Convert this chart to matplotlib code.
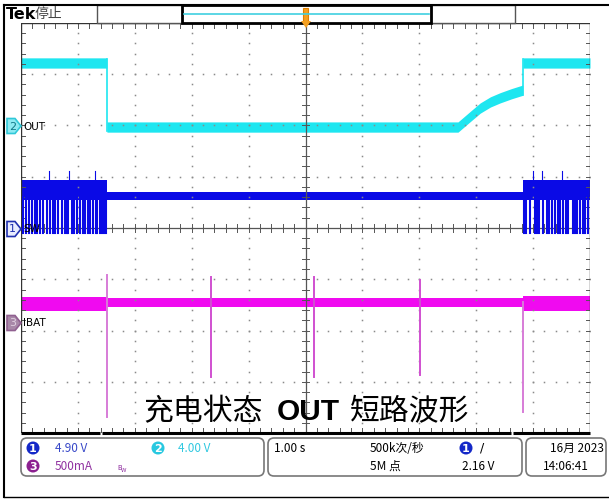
import matplotlib
matplotlib.use('Agg')
import matplotlib.pyplot as plt
import numpy as np
from matplotlib.patches import FancyBboxPatch, Polygon, Circle, Rectangle

plt.rcParams['font.family'] = ['DejaVu Sans', 'Noto Sans CJK SC']

# 屏幕刻度：横向 10 格，纵向 8 格（单位：格）
# CH2 OUT 轨迹（中心线）
out_x = [0, 1.51, 1.51, 7.68, 7.90, 8.07, 8.25, 8.42, 8.62, 8.82, 8.82, 10]
out_y = [7.22, 7.22, 5.97, 5.97, 6.18, 6.34, 6.46, 6.54, 6.62, 6.69, 7.22, 7.22]
out_half = 0.10

# CH1 SW 轨迹（上下沿）
sw_x = [0, 1.51, 1.51, 8.82, 8.82, 10]
sw_top = [4.94, 4.94, 4.70, 4.70, 4.94, 4.94]
sw_bot = [4.55, 4.55, 4.55, 4.55, 4.55, 4.55]
sw_burst = [0.04, 0.09, 0.14, 0.19, 0.25, 0.28, 0.33, 0.39, 0.45, 0.51, 0.56, 0.60,
            0.65, 0.72, 0.77, 0.81, 0.83, 0.90, 0.94, 0.98, 1.04, 1.09, 1.12, 1.18,
            1.21, 1.27, 1.31, 1.34, 1.39, 1.42, 1.45, 1.49,
            8.84, 8.88, 8.95, 9.03, 9.07, 9.10, 9.17, 9.24, 9.28, 9.33, 9.38, 9.43,
            9.47, 9.52, 9.57, 9.61, 9.70, 9.74, 9.77, 9.82, 9.87, 9.91, 9.96]
sw_burst_low = 3.90
sw_up = [0.50, 0.85, 1.30, 9.00, 9.15, 9.50]
sw_up_top = 5.12

# CH3 IBAT 轨迹
ib_x = [0, 1.51, 1.51, 8.82, 8.82, 10]
ib_top = [2.65, 2.65, 2.63, 2.63, 2.67, 2.67]
ib_bot = [2.38, 2.38, 2.46, 2.46, 2.38, 2.38]
ib_spike_x = [1.51, 3.34, 5.15, 7.01, 8.82]
ib_spike_top = [3.08, 3.04, 3.04, 2.99, 2.55]
ib_spike_bot = [0.31, 1.09, 1.09, 1.13, 0.41]

ch_labels = ['OUT', 'SW', 'IBAT']
ch_marker_y = [126, 229, 323]  # 像素

CYAN = '#1EE6F0'
BLUE = '#0A0AE6'
MAG = '#F00AF0'

W, H = 609, 499
fig = plt.figure(figsize=(W / 100, H / 100), dpi=100)
fig.patch.set_facecolor('white')

# 主波形区 21..590 x 23..433 像素
ax = fig.add_axes([21 / W, (H - 433) / H, 569 / W, 410 / H])
ax.set_xlim(0, 10)
ax.set_ylim(0, 8)
ax.axis('off')

# 网格点
minor = np.arange(0, 10.01, 0.2)
minor_y = np.arange(0, 8.01, 0.2)
for gy in range(1, 8):
    if gy == 4:
        continue
    ax.plot(minor, np.full_like(minor, gy), ls='none', marker='s', ms=1.1,
            color='#8a8a8a', mew=0)
for gx in range(1, 10):
    if gx == 5:
        continue
    ax.plot(np.full_like(minor_y, gx), minor_y, ls='none', marker='s', ms=1.1,
            color='#8a8a8a', mew=0)

# 中心十字线带刻度
ax.plot([0, 10], [4, 4], color='#555555', lw=0.9)
ax.plot([5, 5], [0, 8], color='#555555', lw=0.9)
for t in minor:
    ax.plot([t, t], [3.93, 4.07], color='#555555', lw=0.7)
for t in minor_y:
    ax.plot([4.94, 5.06], [t, t], color='#555555', lw=0.7)
# 边框刻度
for t in minor:
    ax.plot([t, t], [7.9, 8], color='#555555', lw=0.7)
    ax.plot([t, t], [0, 0.1], color='#555555', lw=0.7)
for t in minor_y:
    ax.plot([0, 0.07], [t, t], color='#555555', lw=0.7)
    ax.plot([9.93, 10], [t, t], color='#555555', lw=0.7)
ax.plot([0, 0], [0, 8], color='#333333', lw=1)
ax.plot([10, 10], [0, 8], color='#333333', lw=1)
ax.plot([0, 10], [8, 8], color='#333333', lw=1)

# CH3 IBAT
ax.fill_between(ib_x, ib_bot, ib_top, color=MAG, lw=0)
for i, (x, t, b) in enumerate(zip(ib_spike_x, ib_spike_top, ib_spike_bot)):
    ax.plot([x, x], [b, t], color='#D77CD7' if i in (0, 4) else '#D050D0', lw=1.4)

# CH1 SW
ax.fill_between(sw_x, sw_bot, sw_top, color=BLUE, lw=0)
for x in sw_burst:
    ax.plot([x, x], [sw_burst_low, 4.6], color=BLUE, lw=1.5)
for x in sw_up:
    ax.plot([x, x], [4.9, sw_up_top], color=BLUE, lw=0.8)

# CH2 OUT
oy = np.array(out_y)
ax.fill_between(out_x, oy - out_half, oy + out_half, color=CYAN, lw=0)
ax.plot([1.51, 1.51], [5.9, 7.3], color=CYAN, lw=1.2)
ax.plot([8.82, 8.82], [6.6, 7.3], color=CYAN, lw=1.2)

# 叠加层（像素坐标）
ov = fig.add_axes([0, 0, 1, 1])
ov.set_xlim(0, W)
ov.set_ylim(H, 0)
ov.axis('off')
ov.patch.set_alpha(0)

# 外框
ov.plot([4, 4], [5, 497], color='black', lw=1.5)
ov.plot([4, 609], [5, 5], color='black', lw=1.5)
ov.plot([4, 609], [497, 497], color='black', lw=1.0)

# 顶部状态栏
ov.text(6, 14, 'Tek', fontsize=11.5, fontweight='bold', va='center', ha='left',
        family=['Liberation Sans Narrow', 'DejaVu Sans'])
ov.text(35, 14, '停止', fontsize=10, va='center', ha='left', color='#444444',
        family=['Noto Sans CJK SC'])
ov.add_patch(Rectangle((97, 5), 85, 18, fill=False, ec='#555555', lw=1))
ov.add_patch(Rectangle((431, 5), 84, 18, fill=False, ec='#555555', lw=1))
ov.add_patch(Rectangle((182, 5), 249, 18, fill=False, ec='black', lw=2))
ov.plot([184, 429], [14, 14], color='#40D0E0', lw=1.2)
ov.add_patch(Rectangle((303, 8), 5, 13, fc='#F5A020', ec='#E08000', lw=0.8))
ov.add_patch(Polygon([[301, 21], [311, 21], [306, 28]], closed=True, fc='#F5A020', ec='none'))

# 底部粗线
for a, b in [(21, 100), (102, 511), (513, 590)]:
    ov.plot([a, b], [433, 433], color='black', lw=2.2, solid_capstyle='butt')

# 通道标记
mk_fc = ['#8EEAF2', '#E8ECFF', '#A888A8']
mk_ec = ['#30C8D8', '#2030B0', '#906090']
mk_tc = ['#107888', '#2030B0', '#E0D0E0']
for n, (lab, y) in enumerate(zip(ch_labels, ch_marker_y)):
    pts = [[7, y - 7.5], [15, y - 7.5], [21, y], [15, y + 7.5], [7, y + 7.5]]
    ov.add_patch(Polygon(pts, closed=True, fc=mk_fc[n], ec=mk_ec[n], lw=1.2))
    ov.text(12.5, y + 0.5, str([2, 1, 3][n]), fontsize=8, ha='center', va='center',
            color=mk_tc[n])
    ov.text(23, y + 0.5, lab, fontsize=7.5, ha='left', va='center', color='black',
            family=['Liberation Sans Narrow', 'DejaVu Sans'])

# 标题
ov.text(143, 412, '充电状态', fontsize=21.5, ha='left', va='center',
        family=['Noto Sans CJK SC'])
ov.text(277, 412, 'OUT', fontsize=21.5, ha='left', va='center', fontweight='bold',
        family=['Liberation Sans'])
ov.text(350, 412, '短路波形', fontsize=21.5, ha='left', va='center',
        family=['Noto Sans CJK SC'])

# 底部信息框
for x0, x1 in [(21, 264), (268, 522), (526, 606)]:
    ov.add_patch(FancyBboxPatch((x0, 438), x1 - x0, 38,
                                boxstyle='round,pad=0,rounding_size=6',
                                fill=False, ec='#777777', lw=1.2))

fam = ['Liberation Sans Narrow', 'Noto Sans CJK SC']


def badge(x, y, n, color):
    ov.add_patch(Circle((x, y), 6.5, fc=color, ec='none'))
    ov.text(x, y + 0.5, n, fontsize=8, color='white', ha='center', va='center',
            fontweight='bold')


badge(33, 448, '1', '#1428C8')
ov.text(55, 448, '4.90 V', fontsize=8.5, color='#3848C8', va='center', family=fam)
badge(158, 448, '2', '#28C8E0')
ov.text(178, 448, '4.00 V', fontsize=8.5, color='#30C8E0', va='center', family=fam)
badge(33, 466, '3', '#8C2090')
ov.text(55, 466, '500mA', fontsize=8.5, color='#9030A0', va='center', family=fam)
ov.text(117, 468, 'B', fontsize=5, color='#9030A0', va='center')
ov.text(121, 470, 'W', fontsize=4, color='#9030A0', va='center')

ov.text(274, 448, '1.00 s', fontsize=8.5, va='center', family=fam)
ov.text(370, 448, '500k次/秒', fontsize=8.5, va='center', family=fam)
ov.text(370, 466, '5M 点', fontsize=8.5, va='center', family=fam)
badge(466, 448, '1', '#1428C8')
ov.text(480, 448, '/', fontsize=9, va='center')
ov.text(462, 466, '2.16 V', fontsize=8.5, va='center', family=fam)

ov.text(604, 448, '16月 2023', fontsize=8.5, va='center', ha='right', family=fam)
ov.text(543, 466, '14:06:41', fontsize=8.5, va='center', family=fam)

fig.savefig('out.png', dpi=100)
